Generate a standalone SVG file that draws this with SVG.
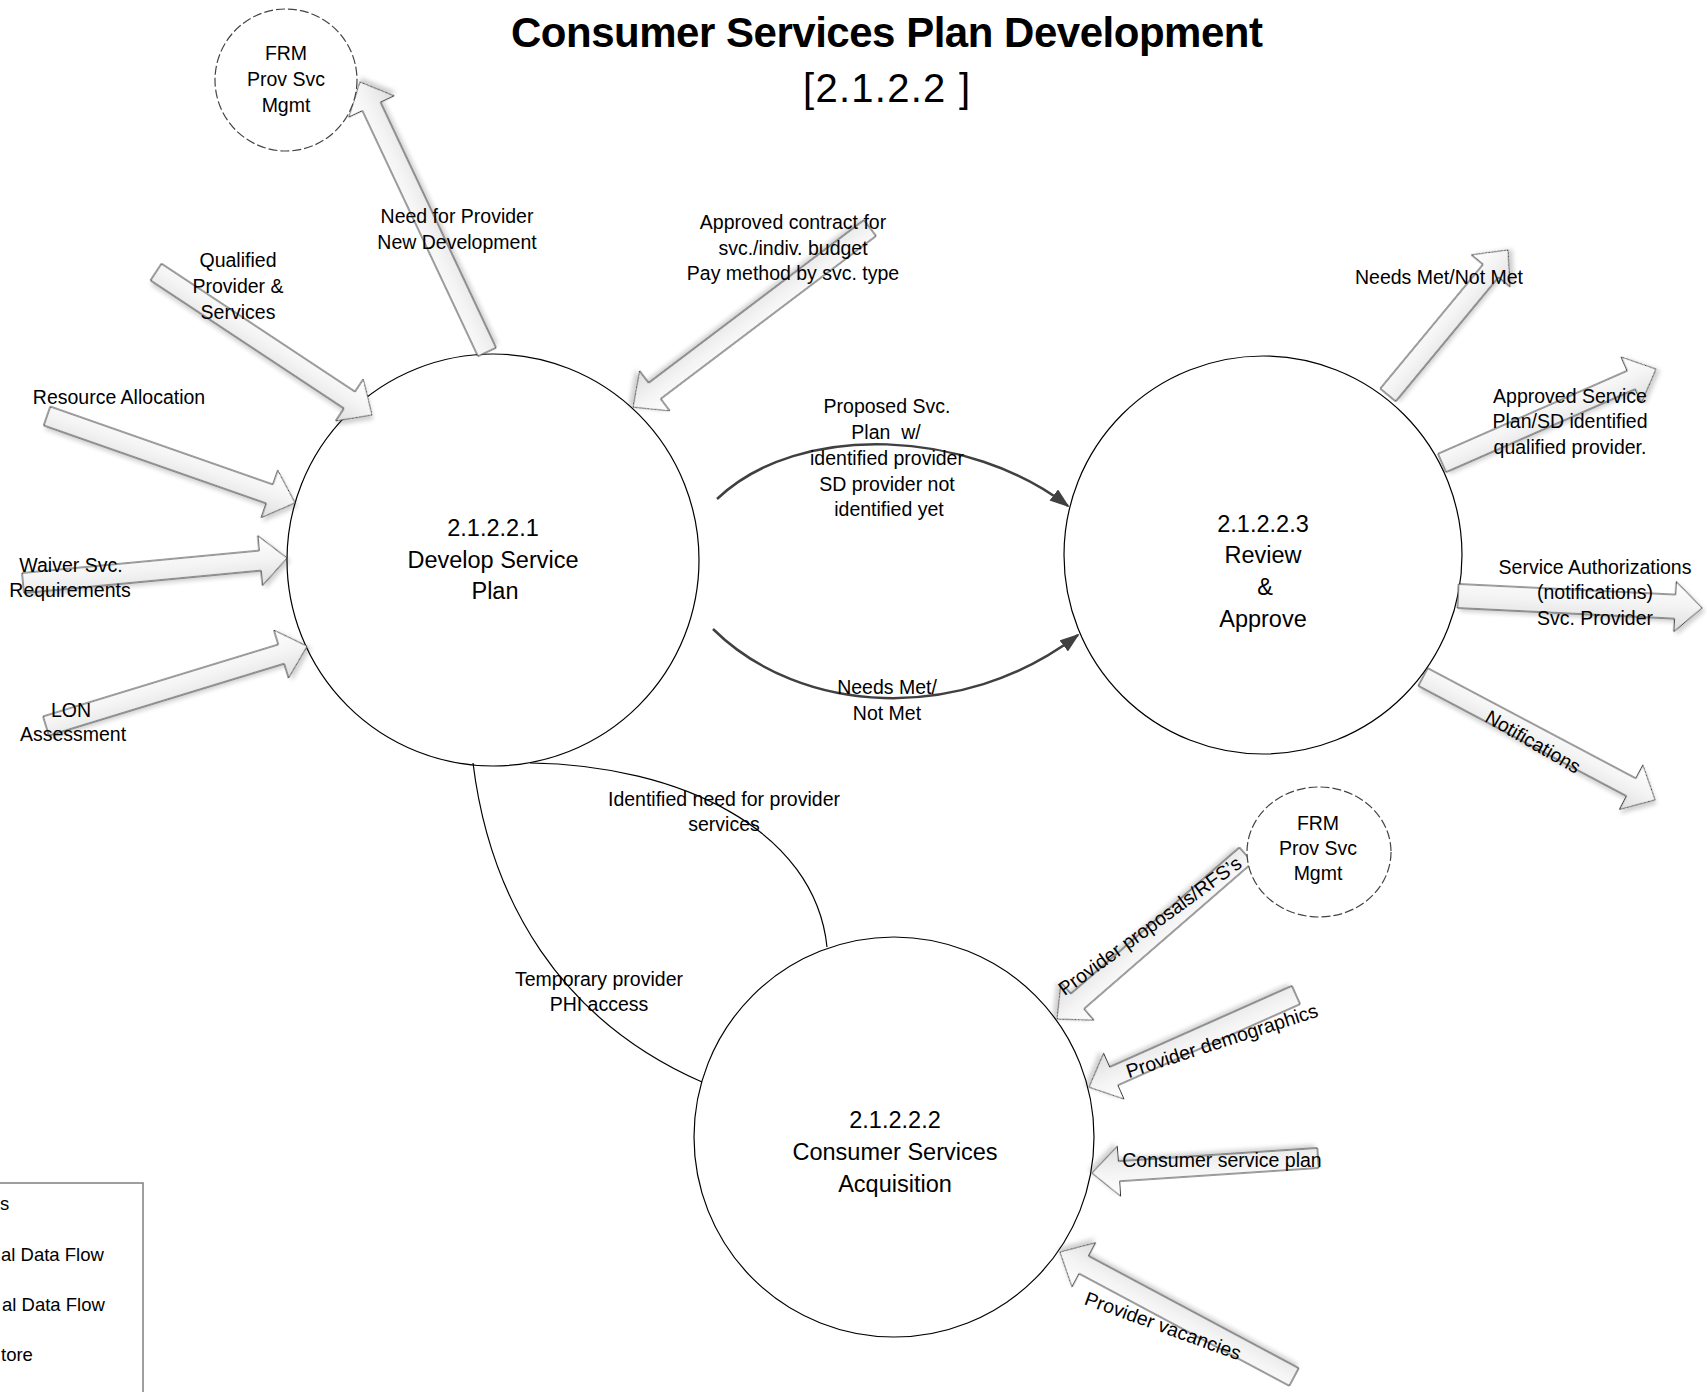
<svg xmlns="http://www.w3.org/2000/svg" width="1707" height="1392" viewBox="0 0 1707 1392">
<defs>
<style>
text { font-family: "Liberation Sans", Arial, sans-serif; fill: #000; }
.lbl { font-size: 19.5px; text-anchor: middle; }
.big { font-size: 23.5px; text-anchor: middle; }
.leg { font-size: 18.5px; }
.proc { fill: #fff; stroke: #000; stroke-width: 1.2; }
.ext { fill: #fff; stroke: #444; stroke-width: 1.2; stroke-dasharray: 9 3; }
.fat { fill: url(#fg); stroke: #333; stroke-width: 1; filter: url(#sh); }
.flow { fill: none; stroke: #404040; stroke-width: 2.5; marker-end: url(#ah); }
.thin { fill: none; stroke: #000; stroke-width: 1.2; }
</style>
<linearGradient id="fg" x1="0" y1="0" x2="0" y2="1">
<stop offset="0" stop-color="#ffffff"/>
<stop offset="0.5" stop-color="#f3f3f3"/>
<stop offset="1" stop-color="#dedede"/>
</linearGradient>
<filter id="sh" x="-20%" y="-20%" width="140%" height="140%">
<feDropShadow dx="3" dy="3" stdDeviation="2" flood-color="#000" flood-opacity="0.18"/>
</filter>
<marker id="ah" markerWidth="20" markerHeight="14" refX="18" refY="7" orient="auto" markerUnits="userSpaceOnUse">
<path d="M0,0 L20,7 L0,14 Z" fill="#404040"/>
</marker>
</defs>
<rect width="1707" height="1392" fill="#fff"/>

<g id="title">
<text x="887" y="47" font-size="42" font-weight="bold" text-anchor="middle" textLength="752">Consumer Services Plan Development</text>
<text x="886.5" y="102" font-size="40" text-anchor="middle" textLength="167">[2.1.2.2 ]</text>
</g>

<g id="legend">
<rect x="-10" y="1183" width="153" height="230" fill="#fff" stroke="#7f7f7f" stroke-width="1.5"/>
<text class="leg" x="0" y="1210">s</text>
<text class="leg" x="1" y="1261">al Data Flow</text>
<text class="leg" x="2" y="1311">al Data Flow</text>
<text class="leg" x="1" y="1361">tore</text>
</g>

<g id="p1">
<circle class="proc" cx="493" cy="560" r="206"/>
<text class="big" x="493" y="536">2.1.2.2.1</text>
<text class="big" x="493" y="568">Develop Service</text>
<text class="big" x="495" y="599">Plan</text>
</g>

<g id="p3">
<circle class="proc" cx="1263" cy="555" r="199"/>
<text class="big" x="1263" y="532">2.1.2.2.3</text>
<text class="big" x="1263" y="563">Review</text>
<text class="big" x="1265" y="595">&amp;</text>
<text class="big" x="1263" y="627">Approve</text>
</g>

<g id="p2">
<circle class="proc" cx="894" cy="1137" r="200"/>
<text class="big" x="895" y="1128">2.1.2.2.2</text>
<text class="big" x="895" y="1160">Consumer Services</text>
<text class="big" x="895" y="1192">Acquisition</text>
</g>

<g id="connectors">
<path class="fat" d="M0,-10 H271.4 V-25 L298.4,0 L271.4,25 V10 H0 Z" transform="translate(487,352) rotate(-115.2)"/>
<path class="fat" d="M0,-10 H232 V-25 L259,0 L232,25 V10 H0 Z" transform="translate(156,272) rotate(33.5)"/>
<path class="fat" d="M0,-10 H235.8 V-25 L262.8,0 L235.8,25 V10 H0 Z" transform="translate(47,416) rotate(19.3)"/>
<path class="fat" d="M0,-10 H238.2 V-25 L265.2,0 L238.2,25 V10 H0 Z" transform="translate(23,583) rotate(-5.4)"/>
<path class="fat" d="M0,-10 H246 V-25 L273,0 L246,25 V10 H0 Z" transform="translate(46,726) rotate(-17)"/>
<path class="fat" d="M0,-10 H270 V-25 L297,0 L270,25 V10 H0 Z" transform="translate(870,228) rotate(142.9)"/>
<path class="fat" d="M0,-10 H161.2 V-25 L188.2,0 L161.2,25 V10 H0 Z" transform="translate(1388,395) rotate(-50.4)"/>
<path class="fat" d="M0,-10 H206.7 V-25 L233.7,0 L206.7,25 V10 H0 Z" transform="translate(1442,463) rotate(-23.7)"/>
<path class="fat" d="M0,-12 H217.3 V-25 L244.3,0 L217.3,25 V12 H0 Z" transform="translate(1458,596) rotate(2.8)"/>
<path class="fat" d="M0,-10 H235.6 V-25 L262.6,0 L235.6,25 V10 H0 Z" transform="translate(1423,677) rotate(27.9)"/>
<path class="fat" d="M0,-10 H223.2 V-25 L250.2,0 L223.2,25 V10 H0 Z" transform="translate(1246,855) rotate(139.05)"/>
<path class="fat" d="M0,-10 H199.5 V-25 L226.5,0 L199.5,25 V10 H0 Z" transform="translate(1296,995) rotate(156)"/>
<path class="fat" d="M0,-10 H199.5 V-25 L226.5,0 L199.5,25 V10 H0 Z" transform="translate(1318,1158) rotate(176.2)"/>
<path class="fat" d="M0,-10 H238.3 V-25 L265.3,0 L238.3,25 V10 H0 Z" transform="translate(1294,1377) rotate(-151.9)"/>

<path class="flow" d="M717,499 C800,420 970,430 1068,506"/>
<path class="flow" d="M713,629 C800,715 960,725 1078,635"/>
<path class="thin" d="M530,763 C680,765 815,830 827,947"/>
<path class="thin" d="M473,763 C490,900 560,1020 702,1082"/>

<text class="lbl" x="457" y="223">Need for Provider</text>
<text class="lbl" x="457" y="249">New Development</text>
<text class="lbl" x="238" y="267">Qualified</text>
<text class="lbl" x="238" y="293">Provider &amp;</text>
<text class="lbl" x="238" y="319">Services</text>
<text class="lbl" x="119" y="404">Resource Allocation</text>
<text class="lbl" x="71" y="572">Waiver Svc.</text>
<text class="lbl" x="70" y="597">Requirements</text>
<text class="lbl" x="71" y="717">LON</text>
<text class="lbl" x="73" y="741">Assessment</text>
<text class="lbl" x="793" y="229">Approved contract for</text>
<text class="lbl" x="793" y="255">svc./indiv. budget</text>
<text class="lbl" x="793" y="280">Pay method by svc. type</text>
<text class="lbl" x="887" y="413">Proposed Svc.</text>
<text class="lbl" x="886" y="439" xml:space="preserve">Plan  w/</text>
<text class="lbl" x="887" y="465">identified provider</text>
<text class="lbl" x="887" y="491">SD provider not</text>
<text class="lbl" x="889" y="516">identified yet</text>
<text class="lbl" x="887" y="694">Needs Met/</text>
<text class="lbl" x="887" y="720">Not Met</text>
<text class="lbl" x="1439" y="284">Needs Met/Not Met</text>
<text class="lbl" x="1570" y="403">Approved Service</text>
<text class="lbl" x="1570" y="428">Plan/SD identified</text>
<text class="lbl" x="1570" y="454">qualified provider.</text>
<text class="lbl" x="1595" y="574">Service Authorizations</text>
<text class="lbl" x="1595" y="599">(notifications)</text>
<text class="lbl" x="1595" y="625">Svc. Provider</text>
<text class="lbl" transform="translate(1533,742) rotate(30)" x="0" y="6.5">Notifications</text>
<text class="lbl" x="724" y="806">Identified need for provider</text>
<text class="lbl" x="724" y="831">services</text>
<text class="lbl" x="599" y="986">Temporary provider</text>
<text class="lbl" x="599" y="1011">PHI access</text>
<text class="lbl" transform="translate(1150,926) rotate(-36)" x="0" y="6.5">Provider proposals/RFS’s</text>
<text class="lbl" transform="translate(1222,1041) rotate(-18)" x="0" y="6.5">Provider demographics</text>
<text class="lbl" x="1222" y="1167">Consumer service plan</text>
<text class="lbl" transform="translate(1163,1326) rotate(20)" x="0" y="6.5">Provider vacancies</text>
</g>

<g id="frm1">
<circle class="ext" cx="286" cy="80" r="71"/>
<text class="lbl" x="286" y="60">FRM</text>
<text class="lbl" x="286" y="86">Prov Svc</text>
<text class="lbl" x="286" y="112">Mgmt</text>
</g>

<g id="frm2">
<ellipse class="ext" cx="1319" cy="852" rx="72" ry="65"/>
<text class="lbl" x="1318" y="830">FRM</text>
<text class="lbl" x="1318" y="855">Prov Svc</text>
<text class="lbl" x="1318" y="880">Mgmt</text>
</g>
</svg>
